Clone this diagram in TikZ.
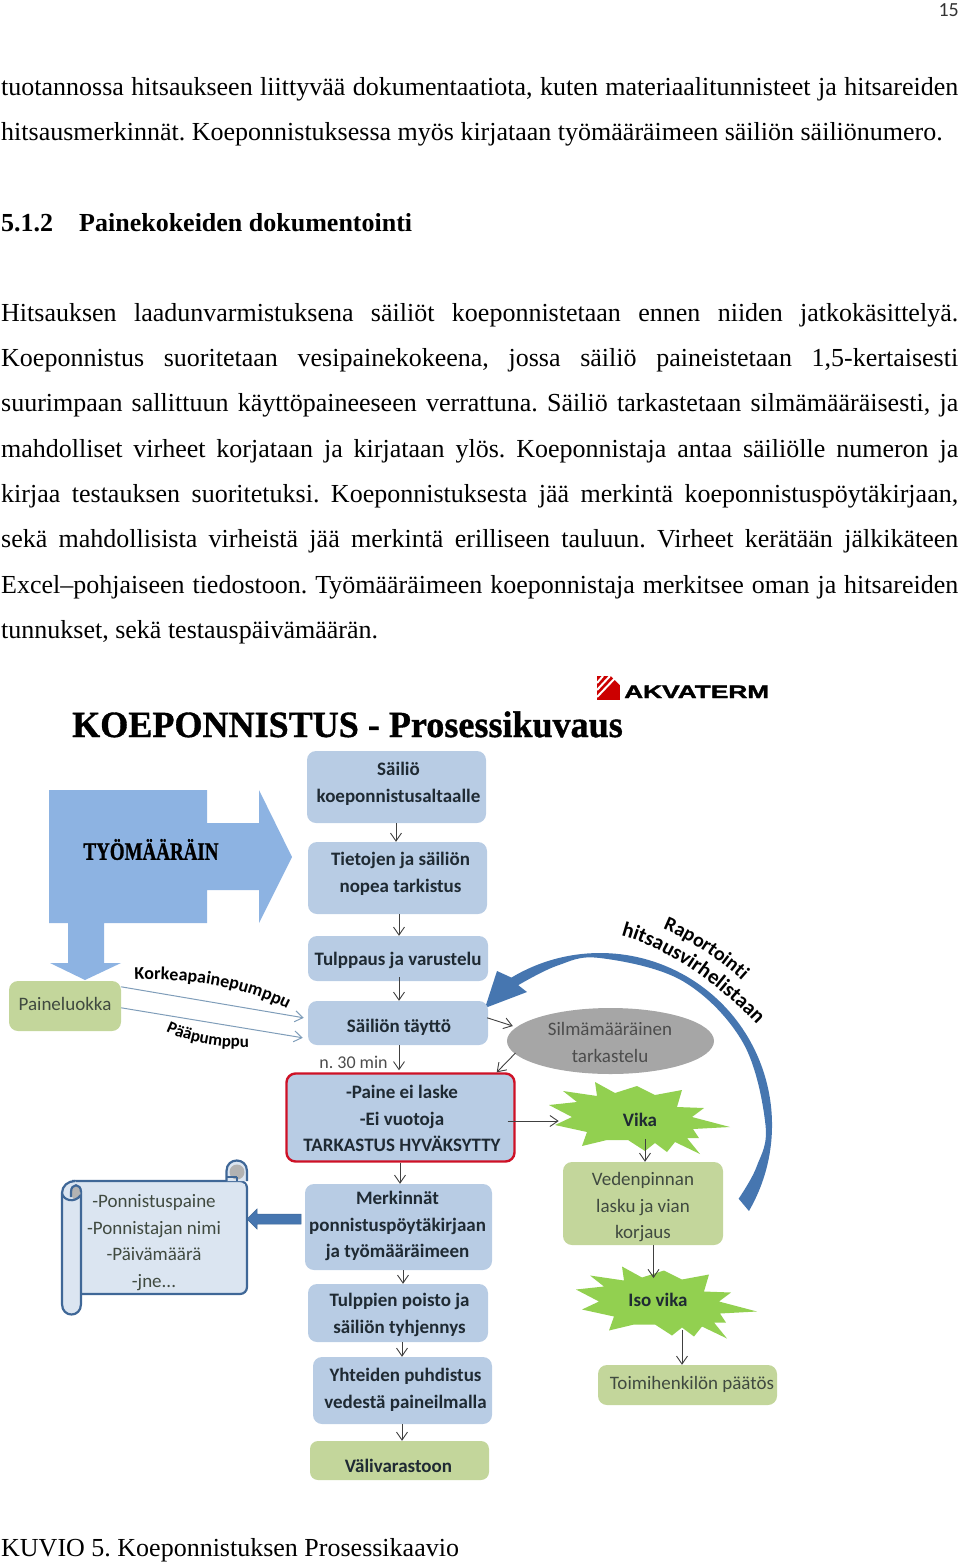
\documentclass[tikz,border=0pt]{standalone}
\usepackage{fontspec}
\usetikzlibrary{decorations.text,calc,arrows.meta,shapes.geometric}
\setmainfont{Liberation Serif}
\newfontfamily\carl{Carlito}
\newfontfamily\lsans[FakeBold=1.5]{Liberation Sans Bold}
\newfontfamily\heavy[FakeBold=1]{Liberation Serif Bold}
\frenchspacing
\definecolor{boxblue}{HTML}{B8CCE4}
\definecolor{boxgreen}{HTML}{C3D69B}
\definecolor{stargreen}{HTML}{92D050}
\definecolor{bigblue}{HTML}{8DB3E2}
\definecolor{arcblue}{HTML}{4676B0}
\definecolor{thinblue}{HTML}{7F9DB9}
\definecolor{redline}{HTML}{CE1126}
\definecolor{scrollfill}{HTML}{DBE5F1}
\definecolor{scrollline}{HTML}{3F6797}
\definecolor{darktext}{HTML}{1F2A33}
\definecolor{softtext}{HTML}{404A40}
\tikzset{
 x=1pt,y=-1pt,
 bluebox/.style={fill=boxblue,rounded corners=9pt,inner sep=0pt,align=center,font=\carl\bfseries\fontsize{19}{26.5}\selectfont,text=darktext},
 greenbox/.style={fill=boxgreen,rounded corners=9pt,inner sep=0pt,align=center,font=\carl\fontsize{19}{26.5}\selectfont,text=softtext},
 bodyline/.style={anchor=base west,inner sep=0pt,font=\fontsize{26}{30}\selectfont,text=black},
 thinarr/.style={draw=black!75,line width=0.9pt,-{Straight Barb[length=8pt,width=11pt]}},
 pumparr/.style={draw=thinblue,line width=1pt,-{Straight Barb[length=8pt,width=11pt]}},
 burst/.style={fill=stargreen,draw=none},
 scrollpen/.style={draw=scrollline,line width=2.2pt},
}
\newcommand{\boxat}[9]{\node[#1,minimum width=#4pt-#3pt,minimum height=#6pt-#5pt] (#2) at ({(#3+#4)/2},{(#5+#6)/2}) {};
 \node[#1,fill=none] (#2t) at ($(#2)+(#7,#8)$) {#9};}
\newcommand{\burstshape}{(595,1082)--(615,1093)--(637,1086)--(655,1095)--(682,1090)--(677,1107)--(704,1108)--(692,1117)--(730,1127)--(693,1129)--(699,1138)--(687,1138)--(700,1154)--(675,1142)--(667,1152)--(655,1143)--(645,1151)--(628,1140)--(607,1140)--(582,1146)--(587,1132)--(555,1125)--(572,1117)--(549,1105)--(577,1102)--(563,1091)--(597,1096)--cycle}
\begin{document}
\begin{tikzpicture}
\useasboundingbox (0,0) rectangle (960,1564);
% page text
\node[anchor=base east,inner sep=0pt,font=\carl\fontsize{20}{24}\selectfont,text=black!80] (pagenum) at (959,16) {15};
\node[bodyline] (l1) at (1,95) {\makebox[957pt][s]{tuotannossa hitsaukseen liittyvää dokumentaatiota, kuten materiaalitunnisteet ja hitsareiden}};
\node[bodyline] (l2) at (1,140) {hitsausmerkinnät. Koeponnistuksessa myös kirjataan työmääräimeen säiliön säiliönumero.};
\node[bodyline,font=\bfseries\fontsize{26}{30}\selectfont] (h1) at (1,231) {5.1.2};
\node[bodyline,font=\bfseries\fontsize{26}{30}\selectfont] (h2) at (79,231) {Painekokeiden dokumentointi};
\node[bodyline] (l3) at (1,321) {\makebox[957pt][s]{Hitsauksen laadunvarmistuksena säiliöt koeponnistetaan ennen niiden jatkokäsittelyä.}};
\node[bodyline] (l4) at (1,366) {\makebox[957pt][s]{Koeponnistus suoritetaan vesipainekokeena, jossa säiliö paineistetaan 1,5-kertaisesti}};
\node[bodyline] (l5) at (1,411) {\makebox[957pt][s]{suurimpaan sallittuun käyttöpaineeseen verrattuna. Säiliö tarkastetaan silmämääräisesti, ja}};
\node[bodyline] (l6) at (1,457) {\makebox[957pt][s]{mahdolliset virheet korjataan ja kirjataan ylös. Koeponnistaja antaa säiliölle numeron ja}};
\node[bodyline] (l7) at (1,502) {\makebox[957pt][s]{kirjaa testauksen suoritetuksi. Koeponnistuksesta jää merkintä koeponnistuspöytäkirjaan,}};
\node[bodyline] (l8) at (1,547) {\makebox[957pt][s]{sekä mahdollisista virheistä jää merkintä erilliseen tauluun. Virheet kerätään jälkikäteen}};
\node[bodyline] (l9) at (1,593) {\makebox[957pt][s]{Excel–pohjaiseen tiedostoon. Työmääräimeen koeponnistaja merkitsee oman ja hitsareiden}};
\node[bodyline] (l10) at (1,638) {tunnukset, sekä testauspäivämäärän.};
\node[bodyline] (cap) at (1,1556) {KUVIO 5. Koeponnistuksen Prosessikaavio};
% title and logo
\node[anchor=base west,inner sep=0pt,font=\heavy\fontsize{37}{40}\selectfont] (title) at (72,737) {\scalebox{0.975}[1]{KOEPONNISTUS - Prosessikuvaus}};
\fill[red!80!black] (597,676) rectangle (620,700);
\foreach \d in {0,7,14}{\draw[white,line width=2pt] (597,{690+\d-7}) -- ({610+\d-7},676);}
\fill[white] (620,676) -- (611,676) -- (620,685) -- cycle;
\node[anchor=base west,inner sep=0pt,font=\lsans\fontsize{18}{20}\selectfont] (logo) at (624,698) {\scalebox{1.46}[1]{AKVATERM}};
% big arrow
\fill[bigblue] (49,790)--(207,790)--(207,823)--(259,823)--(259,790)--(292,857)--(259,923)--(259,890)--(207,890)--(207,923)--(104,923)--(104,963)--(121,963)--(85,980)--(50,963)--(68,963)--(68,923)--(49,923)--cycle;
\node[inner sep=0pt,font=\heavy\fontsize{25}{26}\selectfont] (tm) at (151,849.5) {\scalebox{0.76}[1]{TYÖMÄÄRÄIN}};
% curved arrow
\begin{scope}[shift={(600,1125)}]
\fill[arcblue] (-30:172pt) arc[start angle=-30,end angle=121,radius=172pt] -- (-103,-154) -- (-115,-117) -- (-73,-133) -- (-82,-140) -- plot[smooth,tension=0.6] coordinates {(120.4:162pt)(105:165pt)(90:167pt)(60:166pt)(30:165pt)(0:165.5pt)(-15:162pt)(-28:157pt)} -- cycle;
\end{scope}
% boxes
\boxat{bluebox}{a}{307}{486}{751}{823}{2}{-3}{Säiliö\\koeponnistusaltaalle}
\boxat{bluebox}{b}{308}{487}{842}{914}{3}{-4}{Tietojen ja säiliön\\nopea tarkistus}
\boxat{bluebox}{c}{308}{488}{936}{981}{0}{2}{Tulppaus ja varustelu}
\boxat{bluebox}{d}{308}{488}{1001}{1045}{1}{4}{Säiliön täyttö}
\boxat{greenbox}{p}{9}{121}{981}{1031}{0}{-2}{Paineluokka}
\node[draw=redline,line width=2.4pt,bluebox,minimum width=228pt,minimum height=88pt] (e) at (400.5,1117.5) {};
\node[bluebox,fill=none] (et) at (402,1118.5) {-Paine ei laske\\-Ei vuotoja\\TARKASTUS HYVÄKSYTTY};
\boxat{bluebox}{f}{305}{492}{1184}{1270}{-1}{-1}{Merkinnät\\ponnistuspöytäkirjaan\\ja työmääräimeen}
\boxat{bluebox}{g}{308}{488}{1284}{1342}{1.5}{2}{Tulppien poisto ja\\säiliön tyhjennys}
\boxat{bluebox}{h}{313}{492}{1357}{1424}{3}{-0.5}{Yhteiden puhdistus\\vedestä paineilmalla}
\boxat{bluebox,fill=boxgreen,rounded corners=8pt}{i}{310}{489}{1441}{1480}{-1}{5}{Välivarastoon}
\boxat{greenbox}{j}{563}{723}{1162}{1245}{0}{4}{Vedenpinnan\\lasku ja vian\\korjaus}
\boxat{greenbox}{k}{598}{777}{1365}{1405}{4.5}{-1}{Toimihenkilön päätös}
\node[fill=black!35,ellipse,minimum width=207pt,minimum height=66pt,inner sep=0pt] (s) at (610.5,1041) {};
\node[inner sep=0pt,align=center,font=\carl\fontsize{19}{26.5}\selectfont,text=black!70] (st) at (610,1042.5) {Silmämääräinen\\tarkastelu};
% bursts
\fill[burst] \burstshape;
\fill[burst,shift={(27,184.5)}] \burstshape;
\node[inner sep=0pt,font=\carl\bfseries\fontsize{19}{22}\selectfont,text=darktext] (v) at (640,1120) {Vika};
\node[inner sep=0pt,font=\carl\bfseries\fontsize{19}{22}\selectfont,text=darktext] (w) at (658,1300) {Iso vika};
\node[inner sep=0pt,font=\carl\fontsize{18}{22}\selectfont,text=black!70] (min) at (353.5,1062) {n. 30 min};
% scroll
\draw[fill=scrollfill,scrollpen,rounded corners=7pt] (72,1181) -- (247,1181) -- (247,1294) -- (76,1294);
\fill[scrollfill] (80,1184) rectangle (245,1290);
\draw[fill=scrollfill,scrollpen] (226.5,1181) -- (226.5,1171) .. controls (226.5,1157) and (247,1157) .. (247,1171) -- (247,1181);
\fill[black!30] (237,1172) circle[radius=7.5pt];
\draw[scrollline,line width=1.6pt] (227,1177) -- (237,1177) (237,1177) -- (237,1181);
\draw[fill=scrollfill,scrollpen] (81,1192) -- (81,1304) .. controls (81,1318) and (62,1318) .. (62,1304) -- (62,1193) .. controls (62,1186) and (68,1181) .. (75,1181);
\fill[black!30] (76,1193) ellipse[x radius=4.5pt,y radius=7pt];
\draw[scrollpen] (81,1192) .. controls (81,1183) and (71,1183) .. (71,1192) -- (71,1197);
\draw[scrollpen] (62,1193) .. controls (63,1200) and (74,1204) .. (81,1195);
\node[inner sep=0pt,align=center,font=\carl\fontsize{19}{26.5}\selectfont,text=softtext] (t) at (154,1242.5) {-Ponnistuspaine\\-Ponnistajan nimi\\-Päivämäärä\\-jne...};
\fill[arcblue,draw=scrollline,line width=0.5pt] (301,1214) -- (257,1214) -- (257,1209) -- (247,1219) -- (257,1229) -- (257,1224) -- (301,1224) -- cycle;
% connectors
\draw[thinarr] ([xshift=-0.5pt]a.south) -- (b.north -| 396,0);
\draw[thinarr] (b.south -| 399,0) -- (c.north -| 399,0);
\draw[thinarr] ([yshift=4pt]c.south -| 399,0) -- (d.north -| 399,0);
\draw[thinarr] (d.south -| 399,0) -- ([yshift=2pt]e.north -| 399,0);
\draw[thinarr] (e.south -| 400,0) -- (f.north -| 400,0);
\draw[thinarr] (f.south -| 403,0) -- (g.north -| 403,0);
\draw[thinarr] (g.south -| 402,0) -- (h.north -| 402,0);
\draw[thinarr] (h.south -| 402,0) -- (i.north -| 402,0);
\draw[pumparr] ($(p.north east)+(0,6)$) -- ($(d.north west)+(-4,17)$);
\draw[pumparr] ($(p.north east)+(0,27)$) -- ($(d.north west)+(-5,37)$);
\draw[thinarr] ($(d.north east)+(-1,17)$) -- ($(s.west)+(6,-15)$);
\draw[thinarr] ($(s.center)+(-95,12)$) -- ($(e.north east)+(-19,0)$);
\draw[thinarr] ($(e.east)+(-8,3.5)$) -- ($(v.west)+(-64,1)$);
\draw[thinarr] ($(v.south)+(5,12)$) -- (j.north -| 645,0);
\draw[thinarr] (j.south -| 653.5,0) -- ($(w.north)+(-4.5,-15)$);
\draw[thinarr] ($(w.south)+(24,23)$) -- (k.north -| 682,0);
% curved labels
\path[decorate,decoration={text along path,text align=center,text={|\carl\bfseries\fontsize{18}{22}\selectfont|Korkeapainepumppu}}] (135,980) .. controls (185,978) and (240,985) .. (287,1009);
\path[decorate,decoration={text along path,text align=center,text={|\carl\bfseries\fontsize{17}{22}\selectfont|Pääpumppu}}] (165,1031) .. controls (190,1043) and (220,1048) .. (250,1047);
\path[decorate,decoration={text along path,text align=center,text={|\carl\bfseries\fontsize{20}{22}\selectfont|Raportointi}}] (655,926) .. controls (685,936) and (722,961) .. (748,986);
\path[decorate,decoration={text along path,text align=center,text={|\carl\bfseries\fontsize{21}{22}\selectfont|hitsausvirhelistaan}}] (614,934) .. controls (665,945) and (720,985) .. (762,1030);
\end{tikzpicture}
\end{document}
